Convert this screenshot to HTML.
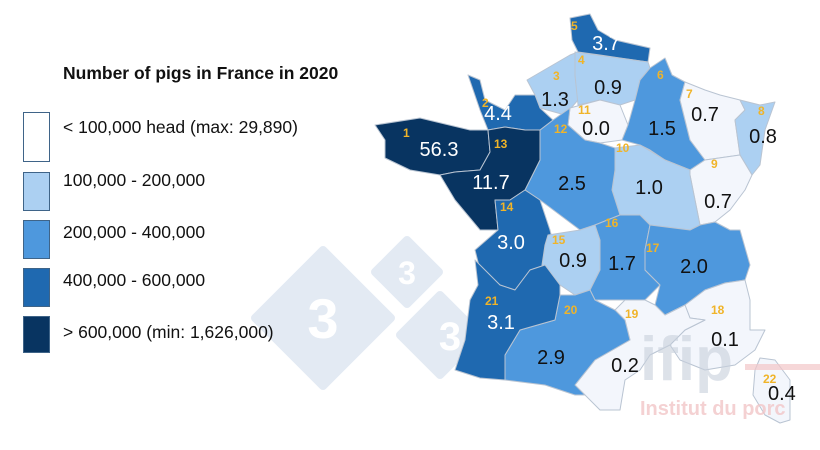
<!DOCTYPE html>
<html><head><meta charset="utf-8"><style>
html,body{margin:0;padding:0;background:#fff}
body{width:820px;height:450px;overflow:hidden;position:relative;font-family:"Liberation Sans",Arial,sans-serif}
</style></head><body>
<svg width="820" height="450" viewBox="0 0 820 450" xmlns="http://www.w3.org/2000/svg" style="position:absolute;left:0;top:0">
<g fill="#e3eaf3" stroke="#e3eaf3" stroke-width="8" stroke-linejoin="round">
<polygon points="323,250 391,318 323,386 255,318"/>
<polygon points="407,240 439,272 407,304 375,272"/>
<polygon points="440,295 480,335 440,375 400,335"/>
</g>
<g font-weight="bold" fill="#fff" text-anchor="middle">
<text x="323" y="338" font-size="56">3</text><text x="407" y="284" font-size="32">3</text><text x="450" y="350" font-size="40">3</text>
</g>
<g stroke="#b9c4d2" stroke-width="1" stroke-linejoin="round">
<polygon fill="#1f69b0" points="570,18 590,14 598,30 615,40 650,48 648,62 620,58 600,55 578,52 572,40"/>
<polygon fill="#acd0f2" points="527,80 570,55 578,52 575,75 578,100 565,115 540,108 535,95"/>
<polygon fill="#acd0f2" points="575,52 648,62 650,68 640,80 635,100 620,105 600,100 578,105 575,75"/>
<polygon fill="#f3f6fc" points="570,108 600,100 620,105 628,125 622,140 600,143 585,140 568,125"/>
<polygon fill="#4e98dd" points="650,68 665,58 672,75 685,82 680,100 690,140 705,160 690,170 665,160 650,150 640,145 622,140 628,125 635,100 640,80"/>
<polygon fill="#f3f6fc" points="685,82 705,90 720,95 740,100 745,110 735,120 740,155 705,160 690,140 680,100"/>
<polygon fill="#acd0f2" points="740,100 760,105 775,102 765,130 760,165 752,175 740,155 735,120 745,110"/>
<polygon fill="#f3f6fc" points="705,160 740,155 752,175 745,190 730,210 715,222 700,225 695,200 690,175 690,170"/>
<polygon fill="#acd0f2" points="615,148 640,145 665,160 690,170 690,175 695,200 700,225 690,230 650,225 640,215 620,215 612,190 615,170"/>
<polygon fill="#4e98dd" points="553,120 570,108 568,125 585,140 600,143 615,148 615,170 612,190 620,215 595,225 580,230 560,215 540,200 525,190 540,160 540,130"/>
<polygon fill="#1f69b0" points="468,75 480,80 485,100 505,110 515,95 535,95 540,108 553,120 540,130 525,130 505,127 488,130 480,110"/>
<polygon fill="#083461" points="375,125 420,118 470,130 488,130 490,152 480,170 455,172 440,175 410,170 385,158 385,140"/>
<polygon fill="#083461" points="488,130 505,127 525,130 540,130 540,160 525,190 510,200 495,200 498,230 480,230 455,200 440,175 455,172 480,170 490,152"/>
<polygon fill="#1f69b0" points="495,200 510,200 525,190 540,200 550,230 555,250 545,265 530,270 515,290 500,285 480,270 475,250 498,230"/>
<polygon fill="#acd0f2" points="548,235 580,230 595,225 600,240 600,270 590,290 575,295 560,285 542,265 545,245"/>
<polygon fill="#4e98dd" points="595,225 620,215 640,215 650,225 645,250 645,270 660,285 645,300 625,300 595,300 590,290 600,270 600,240"/>
<polygon fill="#4e98dd" points="650,225 690,230 700,225 715,222 730,230 740,230 750,265 745,280 725,283 705,290 685,305 665,315 655,305 660,285 645,270 645,250"/>
<polygon fill="#f3f6fc" points="725,283 745,280 750,300 750,330 765,330 755,350 735,365 705,370 680,360 670,345 685,330 705,320 690,318 685,305 705,290"/>
<polygon fill="#f3f6fc" points="625,300 645,300 655,305 665,315 685,305 690,318 705,320 685,330 670,345 650,355 640,370 625,380 620,410 600,410 585,395 575,385 595,360 630,340 625,320 615,310"/>
<polygon fill="#4e98dd" points="560,295 575,295 590,290 595,300 615,310 625,320 630,340 595,360 575,385 585,395 575,395 545,385 505,380 505,355 520,330 555,320"/>
<polygon fill="#1f69b0" points="475,260 500,285 515,290 530,270 545,265 560,285 560,295 555,320 520,330 505,355 505,380 480,378 455,370 465,340 470,300 478,285"/>
<polygon fill="#f3f6fc" points="760,358 775,360 790,380 790,420 780,423 765,415 753,395 755,370"/>
</g>
<text x="640" y="380" font-size="62" font-weight="bold" fill="#c8d0dc" opacity="0.6">ifip</text>
<rect x="745" y="364" width="75" height="6" fill="#f2c6c8" opacity="0.7"/>
<text x="640" y="415" font-size="20" font-weight="bold" fill="#f2c6c8" opacity="0.8">Institut du porc</text>
<g font-size="12" font-weight="bold" fill="#f0b429">
<text x="571" y="30">5</text><text x="553" y="80">3</text><text x="578" y="64">4</text><text x="657" y="79">6</text><text x="686" y="98">7</text><text x="758" y="115">8</text>
<text x="711" y="168">9</text><text x="616" y="152">10</text><text x="578" y="114">11</text><text x="554" y="133">12</text><text x="482" y="107">2</text><text x="403" y="137">1</text>
<text x="494" y="148">13</text><text x="500" y="211">14</text><text x="552" y="244">15</text><text x="605" y="227">16</text><text x="646" y="252">17</text><text x="711" y="314">18</text>
<text x="625" y="318">19</text><text x="564" y="314">20</text><text x="485" y="305">21</text><text x="763" y="383">22</text>
</g>
<g font-size="20" text-anchor="middle">
<text x="606" y="50" fill="#fff">3.7</text><text x="555" y="106" fill="#111">1.3</text><text x="608" y="94" fill="#111">0.9</text>
<text x="596" y="135" fill="#111">0.0</text><text x="662" y="135" fill="#111">1.5</text><text x="705" y="121" fill="#111">0.7</text><text x="763" y="143" fill="#111">0.8</text>
<text x="718" y="208" fill="#111">0.7</text><text x="649" y="194" fill="#111">1.0</text><text x="572" y="190" fill="#111">2.5</text><text x="498" y="120" fill="#fff">4.4</text>
<text x="439" y="156" fill="#fff">56.3</text><text x="491" y="189" fill="#fff">11.7</text><text x="511" y="249" fill="#fff">3.0</text><text x="573" y="267" fill="#111">0.9</text>
<text x="622" y="270" fill="#111">1.7</text><text x="694" y="273" fill="#111">2.0</text><text x="725" y="346" fill="#111">0.1</text><text x="625" y="372" fill="#111">0.2</text>
<text x="551" y="364" fill="#111">2.9</text><text x="501" y="329" fill="#fff">3.1</text><text x="768" y="400" fill="#111" text-anchor="start">0.4</text>
</g>
<text x="63" y="79" font-size="17.5" font-weight="bold" fill="#111">Number of pigs in France in 2020</text>
<g stroke="#3f6488" stroke-width="1">
<rect x="23.5" y="112.5" width="26" height="49" fill="#fff"/>
<rect x="23.5" y="172.5" width="26" height="38" fill="#acd0f2"/>
<rect x="23.5" y="220.5" width="26" height="38" fill="#4e98dd"/>
<rect x="23.5" y="268.5" width="26" height="38" fill="#1f69b0"/>
<rect x="23.5" y="316.5" width="26" height="36" fill="#083461"/>
</g>
<g font-size="17.5" fill="#111">
<text x="63" y="133">&lt; 100,000 head (max: 29,890)</text>
<text x="63" y="186">100,000 - 200,000</text>
<text x="63" y="238">200,000 - 400,000</text>
<text x="63" y="286">400,000 - 600,000</text>
<text x="63" y="338">&gt; 600,000 (min: 1,626,000)</text>
</g>
</svg>
</body></html>
